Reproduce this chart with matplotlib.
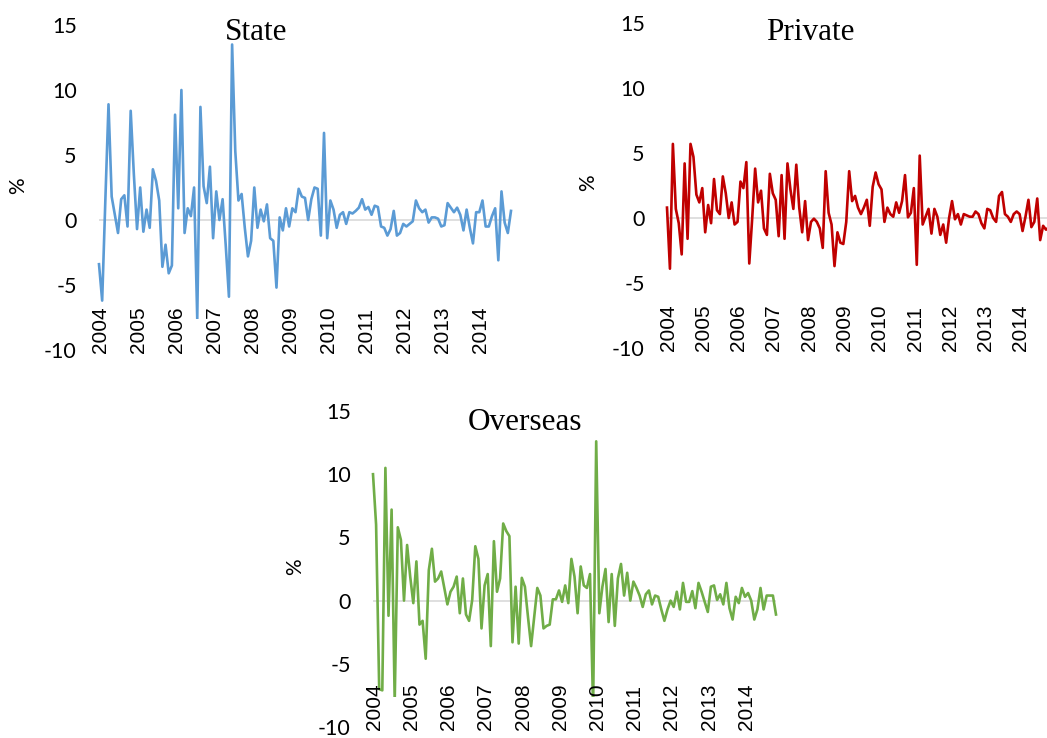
import matplotlib
matplotlib.use("Agg")
import matplotlib.pyplot as plt
from matplotlib.patches import Rectangle

plt.rcParams["axes.unicode_minus"] = False

years = [str(y) for y in range(2004, 2015)]
year_pos = list(range(0, 121, 12))

state = [-3.4, -6.2, 1.5, 8.9, 1.8, 0.4, -1.0, 1.6, 1.9, -0.5,
         8.4, 3.5, -0.7, 2.5, -0.9, 0.8, -0.6, 3.9, 3.0, 1.5,
         -3.6, -1.9, -4.1, -3.5, 8.1, 0.9, 10.0, -1.0, 0.9, 0.3,
         2.5, -7.6, 8.7, 2.6, 1.3, 4.1, -1.4, 2.2, 0.0, 1.6,
         -2.0, -5.9, 13.5, 5.3, 1.5, 2.0, -0.6, -2.8, -1.6, 2.5,
         -0.6, 0.8, -0.1, 1.2, -1.4, -1.6, -5.2, 0.2, -0.8, 0.9,
         -0.5, 0.9, 0.6, 2.4, 1.8, 1.7, 0.0, 1.6, 2.5, 2.4,
         -1.2, 6.7, -1.4, 1.5, 0.8, -0.6, 0.4, 0.6, -0.3, 0.6,
         0.5, 0.7, 0.95, 1.6, 0.8, 1.0, 0.4, 1.1, 1.0, -0.5,
         -0.6, -1.2, -0.7, 0.7, -1.2, -1.0, -0.3, -0.5, -0.3, -0.1,
         1.5, 0.9, 0.6, 0.8, -0.2, 0.2, 0.2, 0.1, -0.5, -0.4,
         1.3, 0.95, 0.6, 0.95, 0.4, -0.8, 0.8, -0.6, -1.8, 0.6,
         0.6, 1.5, -0.5, -0.5, 0.3, 0.9, -3.1, 2.2, -0.2, -1.0,
         0.7]

private = [0.8, -3.9, 5.7, 0.7, -0.4, -2.8, 4.2, -1.6, 5.7, 4.7,
           1.8, 1.2, 2.3, -1.1, 1.0, -0.4, 3.0, 0.6, 0.3, 3.2,
           1.9, 0.0, 1.2, -0.5, -0.3, 2.8, 2.3, 4.3, -3.5, 0.0,
           3.8, 1.2, 2.1, -0.8, -1.3, 3.4, 1.9, 1.4, -1.4, 3.3,
           -1.6, 4.2, 2.2, 0.7, 4.1, 0.8, -1.1, 1.3, -1.7, -0.3,
           -0.05, -0.3, -0.8, -2.3, 3.6, 0.4, -0.5, -3.7, -1.1, -1.9,
           -2.0, -0.3, 3.6, 1.3, 1.7, 0.8, 0.3, 0.8, 1.4, -0.6,
           2.4, 3.5, 2.6, 2.2, -0.3, 0.8, 0.3, 0.1, 1.2, 0.4,
           1.3, 3.3, 0.05, 0.4, 2.3, -3.6, 4.8, -0.5, 0.1, 0.7,
           -1.2, 0.7, 0.1, -1.3, -0.5, -1.9, 0.0, 1.3, -0.1, 0.3,
           -0.5, 0.3, 0.2, 0.1, 0.1, 0.5, 0.3, -0.4, -0.8, 0.7,
           0.6, 0.0, -0.3, 1.7, 2.0, 0.3, 0.1, -0.3, 0.3, 0.5,
           0.3, -1.0, 0.1, 1.4, -0.7, -0.3, 1.5, -1.7, -0.6, -0.9,
           -0.7]

overseas = [10.0, 6.0, -7.0, -7.1, 10.5, -1.2, 7.2, -8.0, 5.8, 4.8,
            0.0, 4.4, 1.9, -0.2, 3.1, -1.9, -1.6, -4.6, 2.4, 4.1,
            1.5, 1.75, 2.3, 1.0, -0.3, 0.7, 1.1, 1.9, -1.0, 1.75,
            -1.1, -1.6, 0.05, 4.3, 3.3, -2.2, 1.2, 2.1, -3.6, 4.7,
            0.7, 1.75, 6.1, 5.5, 5.1, -3.3, 1.1, -3.4, 1.8, 1.1,
            -1.3, -3.6, -1.3, 1.0, 0.4, -2.2, -2.0, -1.9, 0.1, 0.1,
            0.8, -0.1, 1.2, -0.2, 3.3, 1.9, -1.0, 2.7, 1.2, 1.0,
            2.1, -8.5, 12.6, -1.0, 1.1, 2.5, -1.7, 2.1, -2.0, 1.75,
            2.9, 0.4, 2.2, 0.0, 1.5, 1.0, 0.4, -0.5, 0.5, 0.8,
            -0.3, 0.4, 0.3, -0.7, -1.6, -0.7, 0.0, -0.5, 0.7, -0.7,
            1.4, -0.1, -0.1, 0.75, -0.6, 1.4, 0.7, -0.1, -0.9, 1.1,
            1.2, 0.05, 0.5, -0.3, 1.4, -0.6, -1.5, 0.3, -0.2, 1.0,
            0.3, 0.6, 0.0, -1.5, -0.7, 1.0, -0.7, 0.4, 0.4, 0.4,
            -1.1]

W, H = 1047, 738
fig = plt.figure(figsize=(W / 100, H / 100), dpi=100)


def panel(box, values, color, title, title_xy, pct_xy):
    left, right, top, bottom = box
    ax = fig.add_axes([left / W, 1 - bottom / H, (right - left) / W, (bottom - top) / H])
    ax.set_xlim(0, len(values) - 1)
    ax.set_ylim(-10, 15)
    ax.axhline(0, color="#d9d9d9", lw=1.2, zorder=1)
    line, = ax.plot(range(len(values)), values, color=color, lw=1.9, zorder=2)
    # the lines stop at the top of the year labels
    clip = Rectangle((-5, -7.6), len(values) + 10, 30, transform=ax.transData)
    line.set_clip_path(clip)
    for s in ax.spines.values():
        s.set_visible(False)
    ax.set_xticks([])
    ax.set_yticks([-10, -5, 0, 5, 10, 15])
    ax.set_yticklabels(["-10", "-5", "0", "5", "10", "15"], family="Lato", fontsize=15.5)
    ax.tick_params(axis="y", length=0, pad=16)
    for p, y in zip(year_pos, years):
        ax.text(p + 0.4, -10.25, y, rotation=90, ha="center", va="bottom",
                family="Liberation Sans", fontsize=15)
    fig.text(title_xy[0] / W, 1 - title_xy[1] / H, title, ha="center", va="center",
             family="Liberation Serif", fontsize=22.5)
    fig.text(pct_xy[0] / W, 1 - pct_xy[1] / H, "%", rotation=90, ha="center", va="center",
             family="Lato", fontsize=15)
    return ax


panel((99, 511, 25, 350), state, "#5b9bd5", "State", (256, 33), (18, 186))
panel((667, 1049, 23, 348), private, "#c00000", "Private", (810, 32), (588, 183))
panel((373, 776, 411, 727), overseas, "#70ad47", "Overseas", (525, 422), (295, 567))

fig.savefig("out.png", dpi=100)
